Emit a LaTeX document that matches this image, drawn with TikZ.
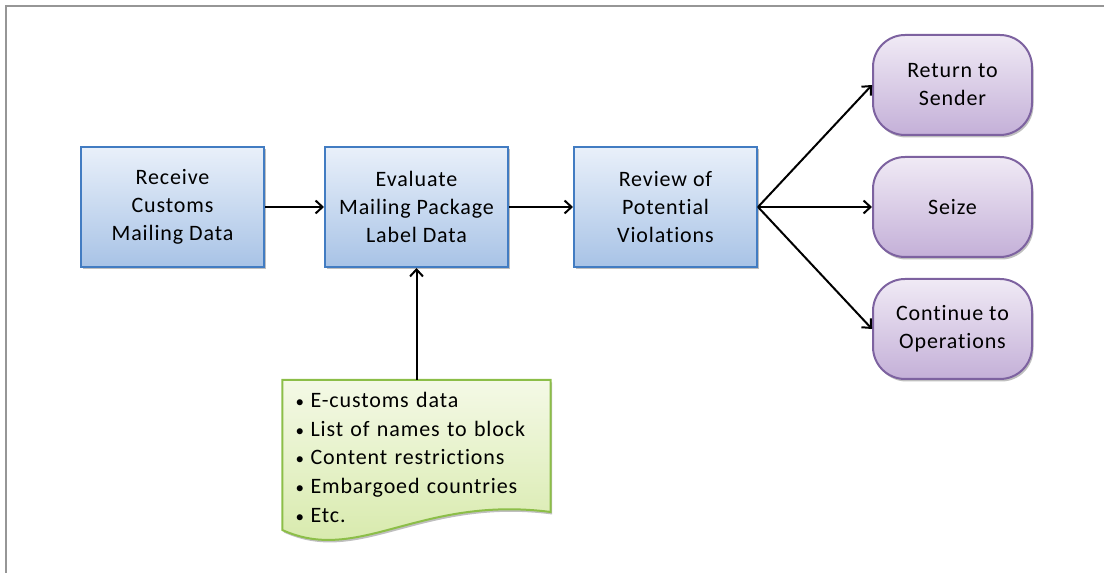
\documentclass[tikz,border=0pt]{standalone}
\usepackage{fontspec}
\setmainfont[LetterSpace=4,Ligatures={NoCommon}]{Carlito}
\usetikzlibrary{positioning}
\usetikzlibrary{calc}
\usetikzlibrary{arrows.meta}
\usetikzlibrary{shadows}
\usetikzlibrary{backgrounds}
\definecolor{framegray}{RGB}{150,150,150}
\definecolor{boxline}{RGB}{66,124,194}
\definecolor{boxtop}{RGB}{233,240,250}
\definecolor{boxbot}{RGB}{168,195,230}
\definecolor{endline}{RGB}{125,98,160}
\definecolor{endtop}{RGB}{240,234,245}
\definecolor{endbot}{RGB}{196,176,216}
\definecolor{noteline}{RGB}{140,190,72}
\definecolor{notetop}{RGB}{244,249,230}
\definecolor{notebot}{RGB}{212,232,165}
\newcommand{\notedot}{\makebox[15pt][l]{\fontsize{17}{17}\selectfont •}}

\begin{document}
\begin{tikzpicture}[x=1pt,y=1pt,font=\fontsize{22}{28}\selectfont
  ,shadowed/.style={drop shadow={shadow xshift=1.5pt,shadow yshift=-2.5pt,opacity=0.25,fill=black}}
  ,stepbox/.style={rectangle,draw=boxline,line width=2pt,top color=boxtop,bottom color=boxbot
                  ,minimum width=183pt,minimum height=120pt,align=center,shadowed}
  ,outcome/.style={rectangle,rounded corners=32pt,draw=endline,line width=2pt,top color=endtop,bottom color=endbot
                  ,minimum width=159pt,minimum height=100pt,align=center,shadowed}
  ,note/.style={text width=242pt,inner xsep=13pt,inner ysep=12pt,align=left,font=\fontsize{22}{28.7}\selectfont}
  ]
\useasboundingbox (0,0) rectangle (1104,573);
\draw[framegray,line width=2pt] (1104,567) -- (6,567) -- (6,0);

\node[stepbox] (recv) at (172.5,366) {Receive\\Customs\\Mailing Data};
\node[stepbox,right=59pt of recv] (eval) {Evaluate\\Mailing Package\\Label Data};
\node[stepbox,right=64pt of eval] (review) {Review of\\Potential\\Violations};
\node[outcome,right=114pt of review] (seize) {Seize};
\node[outcome,above=20pt of seize] (return) {Return to\\Sender};
\node[outcome,below=20pt of seize] (cont) {Continue to\\Operations};
\node[note,below=112pt of eval] (data)
  {\notedot E-customs data\\
   \notedot List of names to block\\
   \notedot Content restrictions\\
   \notedot Embargoed countries\\
   \notedot Etc.};
\begin{scope}[on background layer]
  \path[shadowed,draw=noteline,line width=2pt,top color=notetop,bottom color=notebot]
    (data.north west) -- (data.north east) -- ($(data.north east)+(0,-132)$)
    .. controls ($(data.north west)+(137,-115)$) and ($(data.north west)+(77,-185)$)
    .. ($(data.north west)+(0,-150)$) -- cycle;
\end{scope}

\path[-{Straight Barb[length=7pt,width=13pt]},line width=2pt]
  (recv) edge (eval)
  (eval) edge (review)
  (review.east) edge (return.west)
                edge (seize)
                edge (cont.west)
  (data) edge (eval)
  ;
\end{tikzpicture}
\end{document}
